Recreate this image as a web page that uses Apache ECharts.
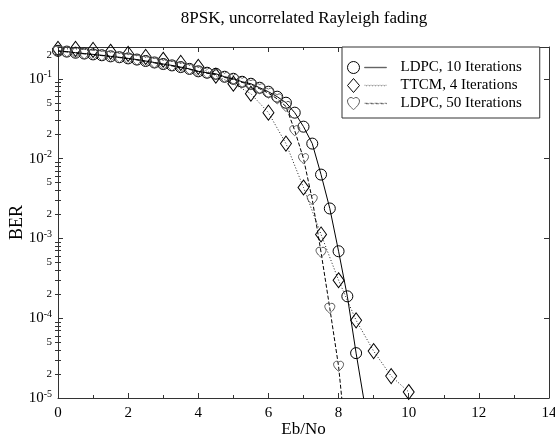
<!DOCTYPE html>
<html>
<head>
<meta charset="utf-8">
<script src="https://cdn.jsdelivr.net/npm/echarts@6/dist/echarts.min.js"></script>
<style>
  html, body { margin: 0; padding: 0; background: #fff; }
  #chart { width: 555px; height: 440px; }
</style>
</head>
<body>
<div id="chart"></div>
<script>
// Eb/No (dB) and BER
const ldpc10Ebno = [0, 0.25, 0.5, 0.75, 1, 1.25, 1.5, 1.75, 2, 2.25, 2.5, 2.75, 3, 3.25, 3.5, 3.75,
    4, 4.25, 4.5, 4.75, 5, 5.25, 5.5, 5.75, 6, 6.25, 6.5, 6.75, 7, 7.25, 7.5, 7.75, 8, 8.25, 8.5, 8.75];
const ldpc10Ber = [0.224, 0.219, 0.212, 0.207, 0.202, 0.197, 0.191, 0.186, 0.180, 0.174, 0.167, 0.160,
    0.153, 0.147, 0.140, 0.133, 0.124, 0.119, 0.1155, 0.106, 0.100, 0.0917, 0.0866, 0.0772, 0.0688,
    0.0596, 0.0501, 0.0376, 0.0251, 0.0154, 0.0063, 0.00237, 6.9e-4, 1.88e-4, 3.65e-5, 8.0e-6];

const ttcmEbno = [0, 0.5, 1, 1.5, 2, 2.5, 3, 3.5, 4, 4.5, 5, 5.5, 6, 6.5, 7, 7.5, 8, 8.5, 9, 9.5, 10];
const ttcmBer = [0.237, 0.237, 0.230, 0.218, 0.205, 0.188, 0.173, 0.158, 0.141, 0.109, 0.0866, 0.0649,
    0.0376, 0.0154, 0.00434, 0.00112, 2.99e-4, 9.4e-5, 3.87e-5, 1.88e-5, 1.19e-5];

const ldpc50Ebno = [0, 0.25, 0.5, 0.75, 1, 1.25, 1.5, 1.75, 2, 2.25, 2.5, 2.75, 3, 3.25, 3.5, 3.75,
    4, 4.25, 4.5, 4.75, 5, 5.25, 5.5, 5.75, 6, 6.25, 6.5, 6.75, 7, 7.25, 7.5, 7.75, 8, 8.25];
const ldpc50Ber = [0.222, 0.217, 0.211, 0.205, 0.200, 0.195, 0.190, 0.184, 0.178, 0.172, 0.165, 0.158,
    0.151, 0.145, 0.138, 0.131, 0.123, 0.117, 0.113, 0.104, 0.098, 0.090, 0.084, 0.075, 0.066,
    0.056, 0.045, 0.0224, 0.0100, 0.00307, 6.7e-4, 1.33e-4, 2.5e-5, 2.0e-6];

const seriesNames = ['LDPC, 10 Iterations', 'TTCM, 4 Iterations', 'LDPC, 50 Iterations'];

// axis ticks / labels
const yLabelValues = [1e-5, 2e-5, 5e-5, 1e-4, 2e-4, 5e-4, 1e-3, 2e-3, 5e-3, 1e-2, 2e-2, 5e-2, 0.1, 0.2];
const yMajorTicks = [1e-5, 1e-4, 1e-3, 1e-2, 0.1];
const yMinorMantissa = [2, 3, 4, 5, 6, 7, 8, 9];

let yMinorTicks = [];
for (let p of yMajorTicks) {
    for (let m of yMinorMantissa) {
        let v = +(m * p).toPrecision(3);
        if (v <= 0.25) yMinorTicks.push(v);
    }
}

const FONT = 'Liberation Serif';
const heartPath = 'path://M12 21C12 21 3 14.5 3 8.5C3 5.5 5.5 3 8.5 3C10 3 11.3 3.8 12 5C12.7 3.8 14 3 15.5 3C18.5 3 21 5.5 21 8.5C21 14.5 12 21 12 21Z';

function pairs(xs, ys) {
    return xs.map((x, i) => [x, ys[i]]);
}

function yLabelFormatter(value) {
    let e = Math.log10(value);
    let r = Math.round(e);
    if (Math.abs(e - r) < 1e-6) {
        return '{b|10}{e|' + r + '}';
    }
    return '{m|' + Math.round(value / Math.pow(10, Math.floor(e + 1e-9))) + '}';
}

function yAxisDef(position, opts) {
    let base = {
        type: 'log',
        logBase: 10,
        min: 1e-5,
        max: 0.25,
        position: position,
        axisLine: { show: true, onZero: false, lineStyle: { color: '#333', width: 1 } },
        axisTick: { show: true, inside: true, length: 5, lineStyle: { color: '#333' }, customValues: yMajorTicks },
        axisLabel: { show: false },
        splitLine: { show: false },
        minorTick: { show: false },
        minorSplitLine: { show: false }
    };
    return Object.assign(base, opts);
}

let chart = echarts.init(document.getElementById('chart'));

let option = {
    animation: false,
    backgroundColor: '#fff',
    title: {
        text: '8PSK, uncorrelated Rayleigh fading',
        left: 299,
        top: 5,
        textAlign: 'center',
        textStyle: { fontFamily: FONT, fontSize: 17, fontWeight: 'normal', color: '#000' }
    },
    grid: { left: 58, right: 6, top: 47, bottom: 42, outerBoundsMode: 'none', containLabel: false },
    legend: {
        orient: 'vertical',
        left: 342,
        top: 47,
        padding: [13, 18, 7, 5],
        itemGap: 3,
        itemWidth: 12,
        itemHeight: 14,
        borderColor: '#333',
        borderWidth: 1,
        backgroundColor: '#fff',
        textStyle: {
            fontFamily: FONT,
            fontSize: 15,
            color: '#000',
            rich: {
                solid: { width: 22, height: 0.5, borderColor: '#000', borderWidth: 0.5 },
                dotted: { width: 22, height: 0.5, borderColor: '#000', borderWidth: 0.5, borderType: [1, 2] },
                dashed: { width: 22, height: 0.5, borderColor: '#000', borderWidth: 0.5, borderType: [3, 2] },
                t: { fontFamily: FONT, fontSize: 15, color: '#000', padding: [0, 0, 0, 14] }
            }
        },
        formatter: function (name) {
            let tok = name === seriesNames[0] ? 'solid' : (name === seriesNames[1] ? 'dotted' : 'dashed');
            return '{' + tok + '|}{t|' + name + '}';
        },
        data: [
            { name: seriesNames[0], icon: 'circle', itemStyle: { color: 'transparent', borderColor: '#000', borderWidth: 1 } },
            { name: seriesNames[1], icon: 'diamond', itemStyle: { color: 'transparent', borderColor: '#000', borderWidth: 1 } },
            { name: seriesNames[2], icon: heartPath, itemStyle: { color: 'transparent', borderColor: '#555', borderWidth: 1 } }
        ]
    },
    xAxis: [
        {
            type: 'value',
            min: 0,
            max: 14,
            interval: 2,
            position: 'bottom',
            name: 'Eb/No',
            nameLocation: 'middle',
            nameGap: 23,
            nameMoveOverlap: false,
            nameTextStyle: { fontFamily: FONT, fontSize: 17, color: '#000' },
            axisLine: { show: true, onZero: false, lineStyle: { color: '#333', width: 1 } },
            axisTick: { show: true, inside: true, length: 5, lineStyle: { color: '#333' } },
            minorTick: { show: true, splitNumber: 2, length: 3, lineStyle: { color: '#333' } },
            axisLabel: { fontFamily: FONT, fontSize: 15, color: '#000', margin: 8 },
            splitLine: { show: false }
        },
        {
            type: 'value',
            min: 0,
            max: 14,
            interval: 2,
            position: 'top',
            axisLine: { show: true, onZero: false, lineStyle: { color: '#333', width: 1 } },
            axisTick: { show: true, inside: true, length: 5, lineStyle: { color: '#333' } },
            minorTick: { show: true, splitNumber: 2, length: 3, lineStyle: { color: '#333' } },
            axisLabel: { show: false },
            splitLine: { show: false }
        }
    ],
    yAxis: [
        yAxisDef('left', {
            name: 'BER',
            nameLocation: 'middle',
            nameGap: 32,
            nameMoveOverlap: false,
            nameRotate: 90,
            nameTextStyle: { fontFamily: FONT, fontSize: 18, color: '#000' },
            axisLabel: {
                show: true,
                margin: 6,
                customValues: yLabelValues,
                formatter: yLabelFormatter,
                rich: {
                    b: { fontFamily: FONT, fontSize: 15, color: '#000' },
                    e: { fontFamily: FONT, fontSize: 10, color: '#000', padding: [0, 0, 8, 0] },
                    m: { fontFamily: FONT, fontSize: 11, color: '#000' }
                }
            }
        }),
        yAxisDef('left', {
            axisLine: { show: false },
            axisTick: { show: true, inside: true, length: 3, lineStyle: { color: '#333' }, customValues: yMinorTicks }
        }),
        yAxisDef('right', {}),
        yAxisDef('right', {
            axisLine: { show: false },
            axisTick: { show: true, inside: true, length: 3, lineStyle: { color: '#333' }, customValues: yMinorTicks }
        })
    ],
    series: [
        {
            name: seriesNames[0],
            type: 'line',
            data: pairs(ldpc10Ebno, ldpc10Ber),
            symbol: 'circle',
            symbolSize: 11,
            showAllSymbol: true,
            itemStyle: { color: 'transparent', borderColor: '#000', borderWidth: 1 },
            lineStyle: { color: '#000', width: 1, type: 'solid' },
            z: 3
        },
        {
            name: seriesNames[1],
            type: 'line',
            data: pairs(ttcmEbno, ttcmBer),
            symbol: 'diamond',
            symbolSize: [11, 15],
            showAllSymbol: true,
            itemStyle: { color: 'transparent', borderColor: '#000', borderWidth: 1 },
            lineStyle: { color: '#222', width: 1, type: [1, 2] },
            z: 3
        },
        {
            name: seriesNames[2],
            type: 'line',
            data: pairs(ldpc50Ebno, ldpc50Ber),
            symbol: heartPath,
            symbolSize: [10, 10],
            showAllSymbol: true,
            itemStyle: { color: 'transparent', borderColor: '#555', borderWidth: 1 },
            lineStyle: { color: '#000', width: 1, type: [4, 2] },
            z: 3
        }
    ]
};

chart.setOption(option);
</script>
</body>
</html>
